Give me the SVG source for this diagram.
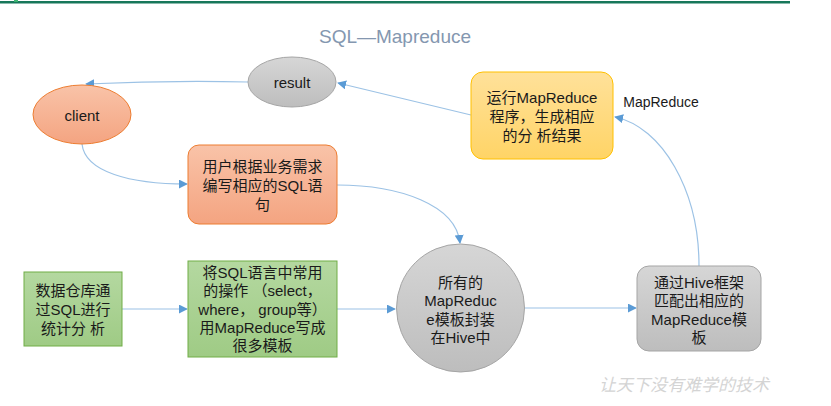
<svg xmlns="http://www.w3.org/2000/svg" width="831" height="406" viewBox="0 0 831 406">
<defs>
<linearGradient id="gGray" x1="0" y1="0" x2="0" y2="1"><stop offset="0" stop-color="#d6d6d6"/><stop offset="1" stop-color="#bdbdbd"/></linearGradient>
<linearGradient id="gOrange" x1="0" y1="0" x2="0" y2="1"><stop offset="0" stop-color="#f9c3a8"/><stop offset="1" stop-color="#f4a481"/></linearGradient>
<linearGradient id="gYellow" x1="0" y1="0" x2="0" y2="1"><stop offset="0" stop-color="#ffe19a"/><stop offset="1" stop-color="#ffd466"/></linearGradient>
<linearGradient id="gGreen" x1="0" y1="0" x2="0" y2="1"><stop offset="0" stop-color="#b4d8a0"/><stop offset="1" stop-color="#9fcb85"/></linearGradient>
<marker id="arr" viewBox="0 0 10 10" refX="9" refY="5" markerWidth="9" markerHeight="9" markerUnits="userSpaceOnUse" orient="auto"><path d="M0,0 L10,5 L0,10 z" fill="#5b9bd5"/></marker>
</defs>
<style>
.t{font-family:"Liberation Sans","Noto Sans CJK SC",sans-serif;font-size:15px;fill:#1a1a1a;text-anchor:middle;dominant-baseline:central}
.c{fill:none;stroke:#9cc2e5;stroke-width:1.2;marker-end:url(#arr)}
.gray{fill:url(#gGray);stroke:#a5a5a5;stroke-width:1}
.orange{fill:url(#gOrange);stroke:#ed7d31;stroke-width:1}
.yellow{fill:url(#gYellow);stroke:#ffc000;stroke-width:1}
.green{fill:url(#gGreen);stroke:#70ad47;stroke-width:1}
</style>
<rect x="0" y="0" width="831" height="406" fill="#ffffff"/>
<rect x="0" y="1" width="790" height="2.5" fill="#17775a"/>
<rect x="14" y="0" width="4" height="2" fill="#3cb371"/>
<text x="395" y="36" style="font-family:'Liberation Sans',sans-serif;font-size:19px;fill:#8497b0;text-anchor:middle;dominant-baseline:central">SQL—Mapreduce</text>

<g id="connectors">
<path class="c" d="M248,82 C200,81 130,82 86,84"/>
<path class="c" d="M471,115 L338,83"/>
<path class="c" d="M82,144 C85,172 130,184 187,184"/>
<path class="c" d="M337,185 C400,185 456,205 460,243"/>
<path class="c" d="M122,309 L187,309"/>
<path class="c" d="M337,309 L395,309"/>
<path class="c" d="M525,308 L636,308"/>
<path class="c" d="M699,266 C699,190 662,127 615,117"/>
</g>

<g id="result">
<ellipse class="gray" cx="292" cy="82" rx="44" ry="25"/>
<text class="t" x="292" y="82">result</text>
</g>
<g id="client">
<ellipse class="orange" cx="82" cy="114.5" rx="49" ry="29.5"/>
<text class="t" x="82" y="115">client</text>
</g>
<g id="user">
<rect class="orange" x="188" y="145" width="149" height="79" rx="11"/>
<text class="t" x="262.5" y="166">用户根据业务需求</text>
<text class="t" x="262.5" y="185">编写相应的SQL语</text>
<text class="t" x="262.5" y="204">句</text>
</g>
<g id="runmr">
<rect class="yellow" x="471" y="72" width="142" height="87" rx="12"/>
<text class="t" x="542" y="97">运行MapReduce</text>
<text class="t" x="542" y="116">程序，生成相应</text>
<text class="t" x="542" y="135">的分 析结果</text>
</g>
<text class="t" x="661" y="102" style="font-size:14px">MapReduce</text>
<g id="warehouse">
<rect class="green" x="24" y="272" width="98" height="74"/>
<text class="t" x="73" y="290">数据仓库通</text>
<text class="t" x="73" y="309">过SQL进行</text>
<text class="t" x="73" y="328">统计分 析</text>
</g>
<g id="template">
<rect class="green" x="188" y="261" width="149" height="96"/>
<text class="t" x="262.5" y="272">将SQL语言中常用</text>
<text class="t" x="262.5" y="290">的操作 （select，</text>
<text class="t" x="262.5" y="309">where， group等）</text>
<text class="t" x="262.5" y="327">用MapReduce写成</text>
<text class="t" x="262.5" y="345">很多模板</text>
</g>
<g id="hivecircle">
<circle class="gray" cx="460.5" cy="308" r="64"/>
<text class="t" x="460.5" y="282">所有的</text>
<text class="t" x="460.5" y="300">MapReduc</text>
<text class="t" x="460.5" y="319">e模板封装</text>
<text class="t" x="460.5" y="337">在Hive中</text>
</g>
<g id="hivebox">
<rect class="gray" x="637" y="266" width="124" height="85" rx="12"/>
<text class="t" x="699" y="282">通过Hive框架</text>
<text class="t" x="699" y="300">匹配出相应的</text>
<text class="t" x="699" y="319">MapReduce模</text>
<text class="t" x="699" y="337">板</text>
</g>
<text x="684" y="383" style="font-family:'Noto Sans CJK SC',sans-serif;font-size:17px;font-style:italic;fill:#d4d4d4;text-anchor:middle;dominant-baseline:central">让天下没有难学的技术</text>
</svg>
